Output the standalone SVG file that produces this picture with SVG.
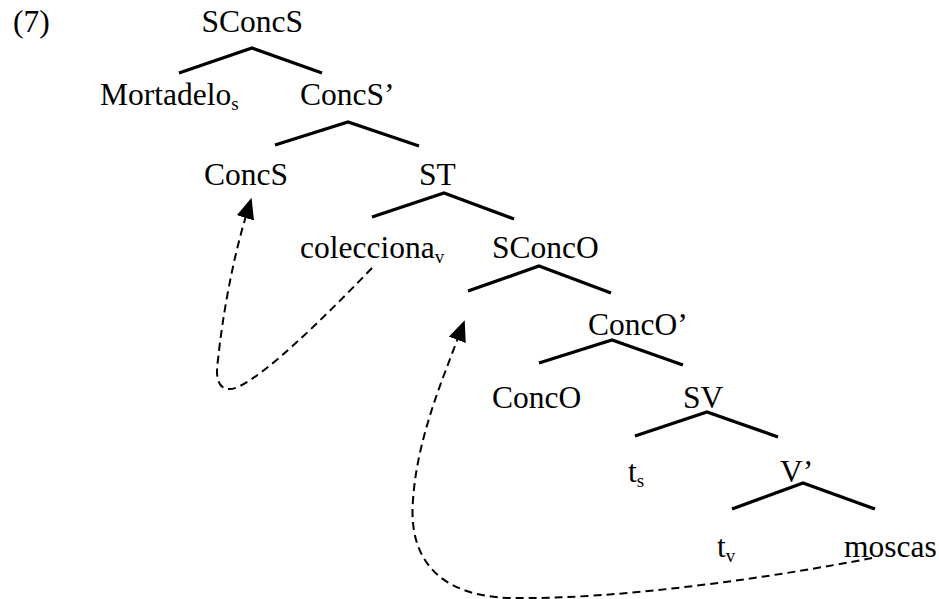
<svg xmlns="http://www.w3.org/2000/svg" width="939" height="599" viewBox="0 0 939 599">
  <style>
    .lbl { font-family: 'Liberation Serif', 'DejaVu Serif', 'Times New Roman', serif; font-size: 31.5px; fill: #000; }
    .sub { font-size: 19px; }
    .branch { fill: none; stroke: #000; stroke-width: 3.3; stroke-linejoin: miter; }
    .move { fill: none; stroke: #000; stroke-width: 2; stroke-dasharray: 8 5; }
  </style>
  <defs>
    <marker id="arrow" markerUnits="userSpaceOnUse" markerWidth="24" markerHeight="20" refX="2" refY="9" orient="auto">
      <path d="M0,0 L21,9 L0,18 z" fill="#000"/>
    </marker>
  </defs>

  <g class="lbl" font-family="Liberation Serif, DejaVu Serif, serif">
    <text x="13" y="32">(7)</text>

    <g id="SConcS"><text x="201.5" y="32">SConcS</text></g>
    <g id="Mortadelo"><text x="100" y="105">Mortadelo<tspan class="sub" dy="5">s</tspan></text></g>
    <g id="ConcS-bar"><text x="300" y="105">ConcS’</text></g>
    <g id="ConcS"><text x="204" y="185">ConcS</text></g>
    <g id="ST"><text x="419" y="185">ST</text></g>
    <g id="colecciona"><text x="300" y="258">colecciona<tspan class="sub" dy="5">v</tspan></text></g>
    <g id="SConcO"><text x="492" y="258">SConcO</text></g>
    <g id="ConcO-bar"><text x="588" y="335">ConcO’</text></g>
    <g id="ConcO"><text x="492" y="408">ConcO</text></g>
    <g id="SV"><text x="683" y="408">SV</text></g>
    <g id="t-s"><text x="628" y="482">t<tspan class="sub" dy="5">s</tspan></text></g>
    <g id="V-bar"><text x="780" y="482">V’</text></g>
    <g id="t-v"><text x="717" y="557">t<tspan class="sub" dy="5">v</tspan></text></g>
    <g id="moscas"><text x="844" y="557">moscas</text></g>
  </g>

  <g id="connectors">
    <polyline class="branch" points="179,73 252,48 322,73"/>
    <polyline class="branch" points="275,145 348,122 419,146"/>
    <polyline class="branch" points="372,217 444,193 514,219"/>
    <polyline class="branch" points="468,291 539,266 611,293"/>
    <polyline class="branch" points="539,363 612,340 683,365"/>
    <polyline class="branch" points="635,436 707,412 778,437"/>
    <polyline class="branch" points="732,509 803,483 875,509"/>

    <!-- head movement: colecciona -> ConcS -->
    <path class="move" marker-end="url(#arrow)" d="M372,268 C320,322 268,372 240,386 C222,395 214,384 218,360 C222,320 232,262 246,216"/>
    <!-- object movement: moscas -> SConcO -->
    <path class="move" marker-end="url(#arrow)" d="M872,558 C780,576 620,600 510,598 C440,596 408,560 413,500 C417,440 441,383 458,338"/>
  </g>
</svg>
